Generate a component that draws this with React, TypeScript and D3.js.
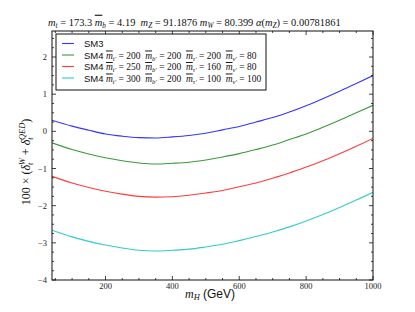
import React from 'react'
import * as d3 from 'd3'

// Higgs mass grid (GeV) and the four curves
const mH = [40, 100, 150, 200, 250, 300, 350, 400, 450, 500, 550, 600, 650, 700, 750, 800, 850, 900, 950, 1000]
const sm3 = [0.30, 0.14, 0.03, -0.07, -0.13, -0.17, -0.18, -0.15, -0.11, -0.05, 0.04, 0.13, 0.25, 0.37, 0.52, 0.69, 0.88, 1.08, 1.29, 1.50]
const sm4a = [-0.31, -0.49, -0.61, -0.71, -0.79, -0.85, -0.88, -0.86, -0.83, -0.77, -0.69, -0.60, -0.49, -0.37, -0.22, -0.07, 0.11, 0.30, 0.50, 0.70]
const sm4b = [-1.21, -1.39, -1.51, -1.61, -1.69, -1.75, -1.77, -1.76, -1.72, -1.66, -1.59, -1.49, -1.39, -1.26, -1.12, -0.96, -0.79, -0.60, -0.40, -0.19]
const sm4c = [-2.66, -2.84, -2.96, -3.06, -3.14, -3.20, -3.22, -3.20, -3.17, -3.11, -3.04, -2.94, -2.83, -2.71, -2.57, -2.41, -2.24, -2.05, -1.85, -1.64]

// legend mass sets: t', b', tau', nu'
const legendMasses = [null, [200, 200, 200, 80], [250, 200, 160, 80], [300, 200, 100, 100]]
const colors = ['#3535ff', '#3a9a3a', '#ff3b3b', '#33cccc']
const xTicks = [200, 400, 600, 800, 1000]
const yTicks = [-4, -3, -2, -1, 0, 1, 2]

const W = 415, H = 312
const margin = { top: 31, right: 42, bottom: 32, left: 52 }

const serif = 'Liberation Serif, DejaVu Serif, serif'
const sans = 'Liberation Sans, Arial, sans-serif'
const pre = { whiteSpace: 'pre' as const }

function M({ sub, bar }: { sub: string, bar?: boolean }) {
  return (
    <>
      <tspan fontStyle="italic" textDecoration={bar ? 'overline' : undefined}>m</tspan>
      <tspan fontStyle="italic" fontSize="70%" baselineShift="-25%">{sub}</tspan>
    </>
  )
}

export default function App() {
  const x = d3.scaleLinear().domain([40, 1000]).range([margin.left, W - margin.right])
  const y = d3.scaleLinear().domain([-4, 2.7]).range([H - margin.bottom, margin.top])
  const x0 = x.range()[0], x1 = x.range()[1]
  const y0 = y.range()[0], y1 = y.range()[1]

  const series = [sm3, sm4a, sm4b, sm4c]
  const line = d3.line<number>()
    .x((_, i) => x(mH[i]))
    .y(d => y(d))
    .curve(d3.curveMonotoneX)

  const xMinor = d3.range(50, 1001, 50)
  const yMinor = d3.range(-4, 2.7, 0.25)

  const legX = 56, legY = 34
  const rowY = [43.5, 55, 66.5, 78]
  const subs = ["t'", "b'", "τ'", "ν'"]

  return (
    <svg width={W} height={H} style={{ position: 'absolute', left: 0, top: 0 }}>
      <rect width={W} height={H} fill="white" />
      {/* title, squeezed a little to fit the axes width */}
      <text transform="translate(48,26) scale(0.95,1)" fontFamily={serif} fontSize={11} fill="#111" style={pre}>
        <M sub="t" /><tspan> = 173.3 </tspan>
        <M sub="b" bar /><tspan> = 4.19  </tspan>
        <M sub="Z" /><tspan> = 91.1876 </tspan>
        <M sub="W" /><tspan> = 80.399 </tspan>
        <tspan fontStyle="italic">α</tspan><tspan>(</tspan><M sub="Z" /><tspan>) = 0.00781861</tspan>
      </text>

      <defs>
        <clipPath id="plot"><rect x={x0} y={y1} width={x1 - x0} height={y0 - y1} /></clipPath>
      </defs>
      <g clipPath="url(#plot)">
        {series.map((s, i) => (
          <path key={i} d={line(s) || ''} fill="none" stroke={colors[i]} strokeWidth={1.1} />
        ))}
      </g>

      {/* ticks */}
      <g stroke="#111" strokeWidth={0.8}>
        {xMinor.filter(v => v >= 40).map(v => (
          <g key={'xm' + v}>
            <line x1={x(v)} x2={x(v)} y1={y0} y2={y0 - (v % 200 === 0 ? 4 : 2)} />
            <line x1={x(v)} x2={x(v)} y1={y1} y2={y1 + (v % 200 === 0 ? 4 : 2)} />
          </g>
        ))}
        {yMinor.map(v => {
          const major = Math.abs(v - Math.round(v)) < 1e-6
          return (
            <g key={'ym' + v}>
              <line x1={x0} x2={x0 + (major ? 4 : 2)} y1={y(v)} y2={y(v)} />
              <line x1={x1} x2={x1 - (major ? 4 : 2)} y1={y(v)} y2={y(v)} />
            </g>
          )
        })}
      </g>
      <rect x={x0} y={y1} width={x1 - x0} height={y0 - y1} fill="none" stroke="#111" strokeWidth={1} />

      {/* tick labels */}
      <g fontFamily={serif} fontSize={8.5} fill="#222">
        {xTicks.map(v => (
          <text key={'xt' + v} x={x(v)} y={y0 + 9} textAnchor="middle">{v}</text>
        ))}
        {yTicks.map(v => (
          <text key={'yt' + v} x={x0 - 5} y={y(v) + 3} textAnchor="end">{v < 0 ? '\u2212' + Math.abs(v) : v}</text>
        ))}
      </g>

      {/* axis labels */}
      <text x={210} y={298} textAnchor="middle" fontSize={12} fill="#111" style={pre}>
        <tspan fontFamily={serif} fontStyle="italic">m</tspan>
        <tspan fontFamily={serif} fontStyle="italic" fontSize="70%" baselineShift="-25%">H</tspan>
        <tspan fontFamily={sans}> (GeV)</tspan>
      </text>
      <text transform={`translate(30,162) rotate(-90)`} textAnchor="middle" fontFamily={serif} fontSize={12} fill="#111" style={pre}>
        <tspan>100 × (</tspan>
        <tspan fontStyle="italic">δ</tspan>
        <tspan fontStyle="italic" fontSize="70%" dy={3}>t</tspan>
        <tspan fontStyle="italic" fontSize="70%" dx={-2.5} dy={-8}>W</tspan>
        <tspan dy={5}> + </tspan>
        <tspan fontStyle="italic">δ</tspan>
        <tspan fontStyle="italic" fontSize="70%" dy={3}>t</tspan>
        <tspan fontStyle="italic" fontSize="70%" dx={-2.5} dy={-8}>QED</tspan>
        <tspan dy={5}>)</tspan>
      </text>

      {/* legend */}
      <rect x={legX} y={legY} width={210} height={56} fill="white" stroke="#111" strokeWidth={1} />
      {rowY.map((ry, i) => (
        <g key={'lg' + i}>
          <line x1={62} x2={74} y1={ry} y2={ry} stroke={colors[i]} strokeWidth={1.1} />
          <text x={84} y={ry + 3.5} fontSize={9.5} fill="#111" style={pre}>
            <tspan fontFamily={sans}>{i === 0 ? 'SM3' : 'SM4'}</tspan>
            {legendMasses[i] && legendMasses[i]!.map((m, j) => (
              <tspan key={j} fontFamily={serif}>
                <tspan> </tspan>
                <M sub={subs[j]} bar />
                <tspan> = {m} </tspan>
              </tspan>
            ))}
          </text>
        </g>
      ))}
    </svg>
  )
}
